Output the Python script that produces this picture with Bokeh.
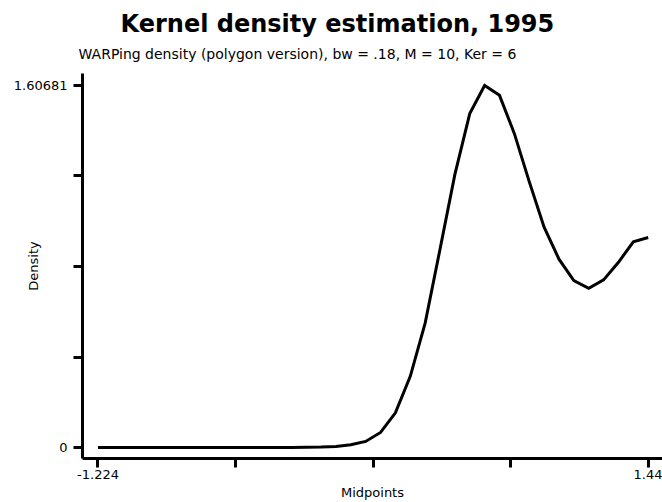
from bokeh.plotting import figure
from bokeh.models import FixedTicker, Range1d, Title
from bokeh.embed import file_html
from bokeh.resources import INLINE

# WARPing density estimate (polygon version): bin midpoints and density values
midpoints = [
    -1.224, -1.152, -1.080, -1.008, -0.936, -0.864, -0.792, -0.720,
    -0.648, -0.576, -0.504, -0.432, -0.360, -0.288, -0.216, -0.144,
    -0.072, 0.000, 0.072, 0.144, 0.216, 0.288, 0.360, 0.432,
    0.504, 0.576, 0.648, 0.720, 0.792, 0.864, 0.936, 1.008,
    1.080, 1.152, 1.224, 1.296, 1.368, 1.440,
]
density = [
    0.0, 0.0, 0.0, 0.0, 0.0, 0.0, 0.0, 0.0,
    0.0, 0.0, 0.0, 0.0, 0.0, 0.0, 0.001, 0.002,
    0.005, 0.012, 0.027, 0.067, 0.154, 0.316, 0.552, 0.880,
    1.212, 1.482, 1.60681, 1.563, 1.393, 1.180, 0.978, 0.836,
    0.741, 0.707, 0.744, 0.822, 0.913, 0.932,
]

# axis ticks and the labels shown on them
x_ticks = [-1.224, -0.558, 0.108, 0.774, 1.44]
x_tick_labels = ["-1.224", "", "", "", "1.44"]
y_ticks = [0.0, 0.4017025, 0.803405, 1.2051075, 1.60681]
y_tick_labels = ["0", "", "", "", "1.60681"]

title_text = "Kernel density estimation, 1995"
subtitle_text = "WARPing density (polygon version), bw = .18, M = 10, Ker = 6"
x_label = "Midpoints"
y_label = "Density"

FONT = "DejaVu Sans"
W, H = 662, 502
LEFT, RIGHT, TOP, BOTTOM = 82, 662, 73, 459
X0, X1 = -1.299, 1.5092
Y0, Y1 = -0.0487, 1.6599

p = figure(
    width=W, height=H,
    output_backend="svg", toolbar_location=None,
    x_range=Range1d(X0, X1), y_range=Range1d(Y0, Y1),
    min_border_left=LEFT, min_border_right=W - RIGHT,
    min_border_top=TOP, min_border_bottom=H - BOTTOM,
)
p.outline_line_color = None
p.xgrid.visible = False
p.ygrid.visible = False
p.background_fill_color = "white"
p.border_fill_color = "white"

p.line(midpoints, density, line_color="black", line_width=3, line_join="miter")

for ax in (p.xaxis[0], p.yaxis[0]):
    ax.axis_line_width = 3
    ax.axis_line_color = "black"
    ax.major_tick_line_width = 3
    ax.major_tick_line_color = "black"
    ax.major_tick_in = 0
    ax.major_tick_out = 9
    ax.minor_tick_line_color = None
    ax.major_label_text_font = FONT
    ax.major_label_text_font_size = "13px"
    ax.major_label_text_color = "black"
    ax.axis_label_text_font = FONT
    ax.axis_label_text_font_size = "13px"
    ax.axis_label_text_font_style = "normal"
    ax.axis_label_text_color = "black"

p.xaxis.ticker = FixedTicker(ticks=x_ticks, minor_ticks=[])
p.xaxis.major_label_overrides = dict(zip(x_ticks, x_tick_labels))
p.xaxis.major_label_standoff = 2
p.xaxis.axis_label = x_label
p.xaxis.axis_label_standoff = 3

p.yaxis.ticker = FixedTicker(ticks=y_ticks, minor_ticks=[])
p.yaxis.major_label_overrides = dict(zip(y_ticks, y_tick_labels))
p.yaxis.major_label_standoff = 6
p.yaxis.axis_label = y_label
# pull the caption in over the empty middle tick labels
p.yaxis.axis_label_standoff = -30

# subtitle sits next to the frame, main title above it
p.add_layout(Title(
    text=subtitle_text, align="left", offset=-4, standoff=24,
    text_font=FONT, text_font_size="14px", text_font_style="normal",
    text_color="black",
), "above")
p.add_layout(Title(
    text=title_text, align="left", offset=38, standoff=-13,
    text_font=FONT, text_font_size="24px", text_font_style="bold",
    text_color="black",
), "above")

open("out.html", "w").write(file_html(p, INLINE))
